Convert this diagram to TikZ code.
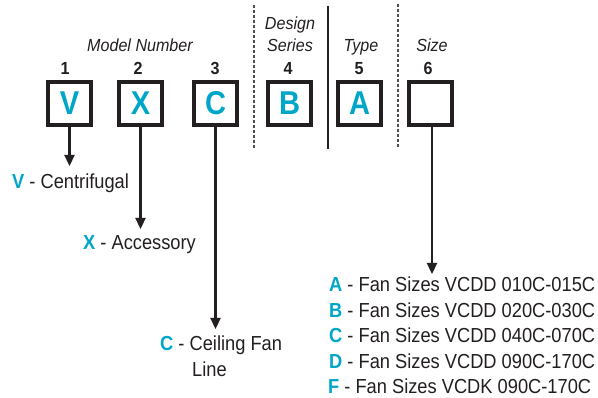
\documentclass[tikz,border=0pt]{standalone}
\usepackage{fontspec}
\setmainfont{Liberation Sans}
\usetikzlibrary{arrows.meta}
\definecolor{cy}{RGB}{0,166,200}
\definecolor{ink}{RGB}{35,31,32}
\begin{document}
\begin{tikzpicture}[x=1pt,y=-1pt,
  box/.style={draw=ink,line width=3.6pt,minimum size=43pt,inner sep=0pt},
  boxtxt/.style={inner sep=0pt,text=cy,xscale=0.88,font=\fontsize{33}{33}\selectfont\bfseries},
  num/.style={anchor=base,inner sep=0pt,text=ink,xscale=0.92,font=\fontsize{17.5}{17.5}\selectfont\bfseries},
  capt/.style={anchor=base,inner sep=0pt,text=ink,xscale=0.92,font=\fontsize{17.5}{17.5}\selectfont\itshape},
  lbl/.style={anchor=base west,inner sep=0pt,text=ink,xscale=0.9,font=\fontsize{20.3}{20.3}\selectfont},
  arr/.style={draw=ink,line width=2.3pt,-{Triangle[length=11pt,width=10pt]}},
  dsep/.style={draw=ink!80,line width=1.3pt,dash pattern=on 3pt off 2pt},
  ssep/.style={draw=ink,line width=1.4pt}]
\useasboundingbox (0,0) rectangle (598,398);
% separators
\coordinate (d1t) at (254,5); \coordinate (d1b) at (254,149);
\coordinate (s1t) at (328,6); \coordinate (s1b) at (328,149);
\coordinate (d2t) at (398,4); \coordinate (d2b) at (398,147);
\draw[dsep] (d1t) -- (d1b);
\draw[ssep] (s1t) -- (s1b);
\draw[dsep] (d2t) -- (d2b);
% captions
\node[capt] (mn) at (140,52) {Model Number};
\node[capt] (ds1) at (290,30) {Design};
\node[capt] (ds2) at (290,52) {Series};
\node[capt] (ty) at (361,52) {Type};
\node[capt] (sz) at (432,52) {Size};
% numbers
\node[num] (n1) at (65,75) {1};
\node[num] (n2) at (138,75) {2};
\node[num] (n3) at (215,75) {3};
\node[num] (n4) at (288,75) {4};
\node[num] (n5) at (359,75) {5};
\node[num] (n6) at (428,75) {6};
% boxes
\node[box] (bV) at (69.5,103.5) {};
\node[box] (bX) at (140.5,103.5) {};
\node[box] (bC) at (215.5,103.5) {};
\node[box] (bB) at (289.5,103.5) {};
\node[box] (bA) at (359.5,103.5) {};
\node[box] (bS) at (430.5,103.5) {};
\node[boxtxt] (tV) at (bV) {V};
\node[boxtxt] (tX) at (bX) {X};
\node[boxtxt] (tC) at (bC) {C};
\node[boxtxt] (tB) at (bB) {B};
\node[boxtxt] (tA) at (bA) {A};
% arrow ends
\coordinate (eV) at (69.5,166);
\coordinate (eX) at (140.5,229);
\coordinate (eC) at (215.5,329);
\coordinate (eS) at (432,274);
\draw[arr] (bV.south) -- (eV);
\draw[arr] (bX.south) -- (eX);
\draw[arr] (bC.south) -- (eC);
\draw[arr] (bS.south -| eS) -- (eS);
% labels
\node[lbl] (lV) at (12,189) {\textcolor{cy}{\bfseries V} - Centrifugal};
\node[lbl] (lX) at (83,250) {\textcolor{cy}{\bfseries X} - Accessory};
\node[lbl] (lC) at (160,351) {\textcolor{cy}{\bfseries C} - Ceiling Fan};
\node[lbl] (lC2) at (192,377) {Line};
\node[lbl] (s1) at (329,292) {\textcolor{cy}{\bfseries A} - Fan Sizes VCDD 010C-015C};
\node[lbl] (s2) at (329,317.5) {\textcolor{cy}{\bfseries B} - Fan Sizes VCDD 020C-030C};
\node[lbl] (s3) at (329,343) {\textcolor{cy}{\bfseries C} - Fan Sizes VCDD 040C-070C};
\node[lbl] (s4) at (329,368.5) {\textcolor{cy}{\bfseries D} - Fan Sizes VCDD 090C-170C};
\node[lbl] (s5) at (328,394) {\textcolor{cy}{\bfseries F} - Fan Sizes VCDK 090C-170C};
\end{tikzpicture}
\end{document}
